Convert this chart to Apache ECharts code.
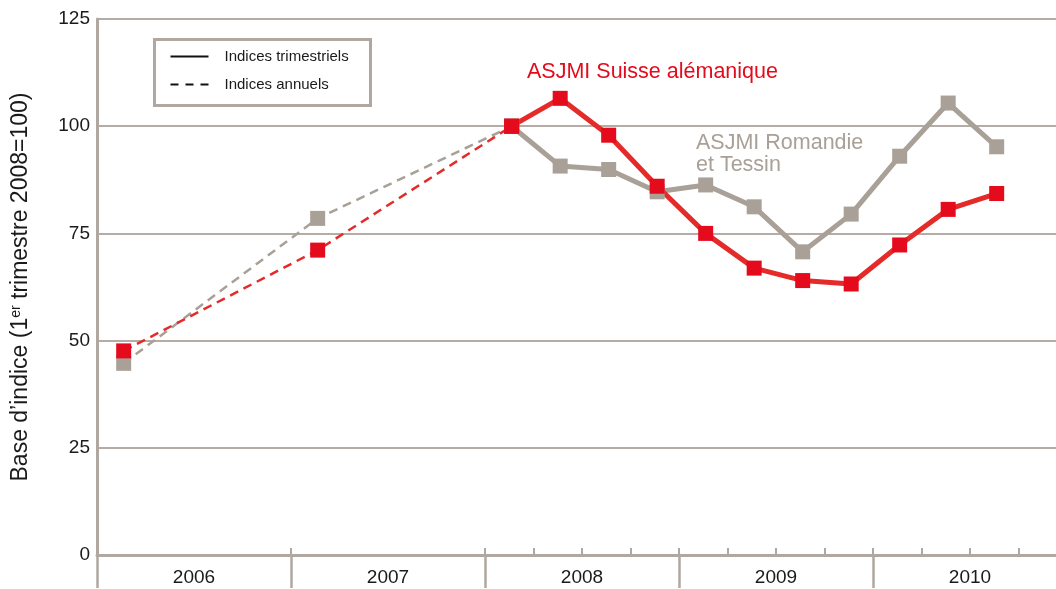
<!DOCTYPE html>
<html>
<head>
<meta charset="utf-8">
<title>ASJMI</title>
<script src="https://cdn.jsdelivr.net/npm/echarts@6/dist/echarts.min.js"></script>
<style>
  html, body { margin: 0; padding: 0; background: #fff; }
  #chart { width: 1056px; height: 589px; }
</style>
</head>
<body>
<div id="chart"></div>
<script>
// années de l'axe x
const years = ['2006', '2007', '2008', '2009', '2010'];
const yTicks = [0, 25, 50, 75, 100, 125];

// indices annuels : 2006, 2007 et 1er trimestre 2008 (index du trimestre depuis 2006 T1)
const annualQuarter = [0, 4, 8];
const annualRed = [47.6, 71.1, 100];
const annualGrey = [44.7, 78.5, 100];

// indices trimestriels : 2008 T1 -> 2010 T3
const quarterIdx = [8, 9, 10, 11, 12, 13, 14, 15, 16, 17, 18];
const quarterRed = [100, 106.5, 97.9, 86, 75, 66.9, 64, 63.2, 72.3, 80.6, 84.3];
const quarterGrey = [100, 90.7, 89.9, 84.7, 86.3, 81.2, 70.7, 79.5, 93, 105.4, 95.2];

const FONT = 'Liberation Sans, Arial, sans-serif';
const RED = '#e30b1c';
const RED_LINE = '#e52a2a';
const GREY = '#a9a097';
const AXIS = '#b0a8a0';

// une catégorie par trimestre, pour les graduations
const quarterCats = [];
years.forEach(y => { for (let q = 1; q <= 4; q++) quarterCats.push(y + ' T' + q); });

const toPoints = (idx, vals) => idx.map((q, i) => [q + 0.55, vals[i]]);

const myChart = echarts.init(document.getElementById('chart'));

const option = {
  animation: false,
  backgroundColor: '#fff',
  textStyle: { fontFamily: FONT },
  grid: { left: 97, right: -11, top: 19, bottom: 34, containLabel: false, outerBoundsMode: 'none' },
  xAxis: [
    {
      type: 'value',
      position: 'bottom',
      min: 0,
      max: quarterCats.length,
      interval: 2,
      axisLine: { show: false },
      axisTick: { show: false },
      splitLine: { show: false },
      axisLabel: {
        fontSize: 19,
        color: '#1a1a1a',
        margin: 13,
        formatter: v => (v % 4 === 2 ? years[(v - 2) / 4] : '')
      }
    },
    {
      type: 'category',
      position: 'bottom',
      data: quarterCats,
      boundaryGap: true,
      axisLine: { show: true, onZero: false, lineStyle: { color: AXIS, width: 3 } },
      axisTick: {
        show: true,
        inside: true,
        length: 7,
        interval: i => i % 4 === 0 || i >= 8,
        lineStyle: { color: AXIS, width: 2 }
      },
      axisLabel: { show: false },
      splitLine: { show: false }
    },
    {
      type: 'category',
      position: 'bottom',
      data: quarterCats,
      boundaryGap: true,
      axisLine: { show: false, onZero: false },
      axisTick: {
        show: true,
        length: 33,
        interval: i => i % 4 === 0,
        lineStyle: { color: AXIS, width: 2.5 }
      },
      axisLabel: { show: false },
      splitLine: { show: false }
    }
  ],
  yAxis: {
    type: 'value',
    min: yTicks[0],
    max: yTicks[yTicks.length - 1],
    interval: yTicks[1] - yTicks[0],
    name: 'Base d’indice (1{sup|er} trimestre 2008=100)',
    nameLocation: 'middle',
    nameRotate: 90,
    nameGap: 65,
    nameTextStyle: {
      fontSize: 23,
      color: '#1a1a1a',
      rich: {
        sup: { fontSize: 14, verticalAlign: 'top', color: '#1a1a1a' }
      }
    },
    axisLine: { show: true, lineStyle: { color: AXIS, width: 3 } },
    axisTick: { show: false },
    axisLabel: { fontSize: 19, color: '#1a1a1a', margin: 7 },
    splitLine: { lineStyle: { color: '#b5ada5', width: 2 } }
  },
  series: [
    {
      name: 'Romandie annuel',
      type: 'line',
      xAxisIndex: 0,
      data: toPoints(annualQuarter, annualGrey),
      symbol: 'rect',
      symbolSize: 15,
      itemStyle: { color: GREY },
      lineStyle: { color: GREY, width: 2.5, type: [9, 6] }
    },
    {
      name: 'Romandie trimestriel',
      type: 'line',
      xAxisIndex: 0,
      data: toPoints(quarterIdx, quarterGrey),
      symbol: 'rect',
      symbolSize: 15,
      itemStyle: { color: GREY },
      lineStyle: { color: GREY, width: 5 }
    },
    {
      name: 'Alémanique annuel',
      type: 'line',
      xAxisIndex: 0,
      data: toPoints(annualQuarter, annualRed),
      symbol: 'rect',
      symbolSize: 15,
      itemStyle: { color: RED },
      lineStyle: { color: RED_LINE, width: 2.5, type: [9, 6] }
    },
    {
      name: 'Alémanique trimestriel',
      type: 'line',
      xAxisIndex: 0,
      data: toPoints(quarterIdx, quarterRed),
      symbol: 'rect',
      symbolSize: 15,
      itemStyle: { color: RED },
      lineStyle: { color: RED_LINE, width: 5 }
    }
  ],
  graphic: [
    {
      type: 'group',
      left: 153,
      top: 38,
      children: [
        { type: 'rect', shape: { x: 0, y: 0, width: 216, height: 66 }, style: { fill: '#fff', stroke: AXIS, lineWidth: 3 } },
        { type: 'line', shape: { x1: 16, y1: 17, x2: 54, y2: 17 }, style: { stroke: '#111', lineWidth: 2 } },
        { type: 'line', shape: { x1: 16, y1: 45, x2: 54, y2: 45 }, style: { stroke: '#111', lineWidth: 2, lineDash: [8, 7] } },
        { type: 'text', x: 70, y: 17, style: { text: 'Indices trimestriels', fontSize: 15, fill: '#1a1a1a', fontFamily: FONT, verticalAlign: 'middle' } },
        { type: 'text', x: 70, y: 45, style: { text: 'Indices annuels', fontSize: 15, fill: '#1a1a1a', fontFamily: FONT, verticalAlign: 'middle' } }
      ]
    },
    {
      type: 'text',
      left: 527,
      top: 61,
      style: { text: 'ASJMI Suisse alémanique', fontSize: 21.5, fill: RED, fontFamily: FONT }
    },
    {
      type: 'text',
      left: 696,
      top: 132,
      style: { text: 'ASJMI Romandie\net Tessin', fontSize: 21.5, lineHeight: 22, fill: GREY, fontFamily: FONT }
    }
  ]
};

myChart.setOption(option);
</script>
</body>
</html>
